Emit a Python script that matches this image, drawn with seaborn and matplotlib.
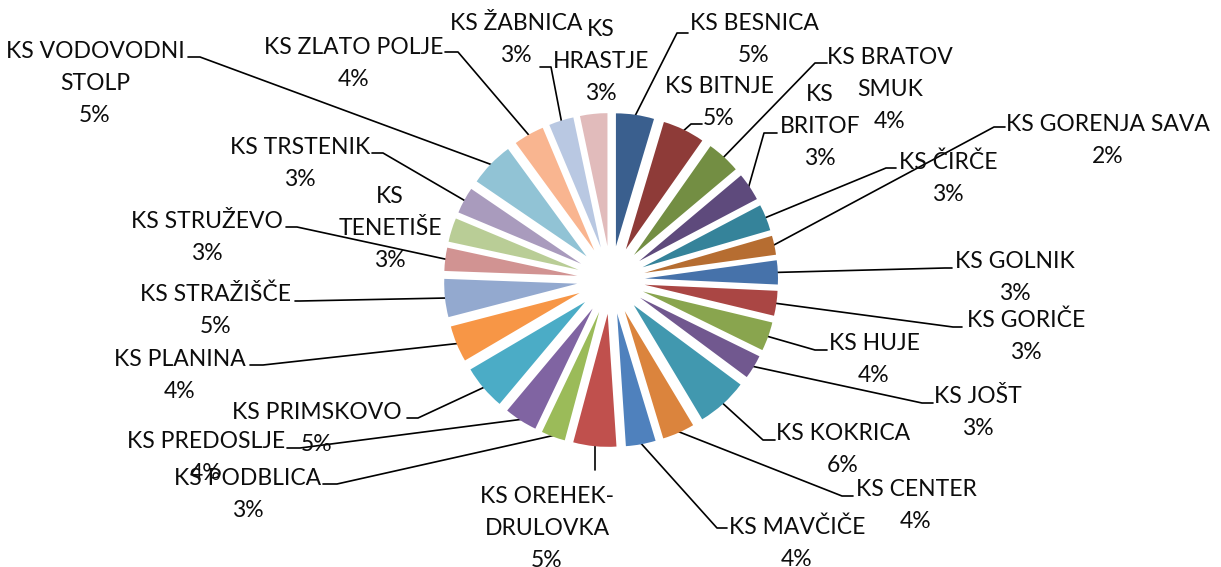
import numpy as np
import matplotlib
matplotlib.use("Agg")
import matplotlib.pyplot as plt
import seaborn as sns

# Delež po krajevnih skupnostih
names = ["KS BESNICA", "KS BITNJE", "KS BRATOV\nSMUK", "KS\nBRITOF", "KS ČIRČE",
         "KS GORENJA SAVA", "KS GOLNIK", "KS GORIČE", "KS HUJE", "KS JOŠT",
         "KS KOKRICA", "KS CENTER", "KS MAVČIČE", "KS OREHEK-\nDRULOVKA",
         "KS PODBLICA", "KS PREDOSLJE", "KS PRIMSKOVO", "KS PLANINA",
         "KS STRAŽIŠČE", "KS STRUŽEVO", "KS\nTENETIŠE", "KS TRSTENIK",
         "KS VODOVODNI\nSTOLP", "KS ZLATO POLJE", "KS ŽABNICA", "KS\nHRASTJE"]
shares = [4.6, 5.1, 4.1, 3.4, 3.2, 2.3, 2.9, 3.0, 3.5, 2.9, 6.2, 3.9, 3.6,
          5.2, 2.9, 4.0, 5.4, 4.4, 4.6, 2.8, 2.9, 3.2, 5.4, 3.7, 3.0, 3.3]

colors = ["#3A5F8E", "#8E3B38", "#738E43", "#5E4A7C", "#35839A", "#B66D31",
          "#4672AA", "#AA4644", "#89A54E", "#71588F", "#4198AF", "#DB843D",
          "#4F81BD", "#C0504D", "#9BBB59", "#8064A2", "#4BACC6", "#F79646",
          "#93A9CF", "#D19392", "#B9CD96", "#A99BBD", "#91C3D5", "#F9B590",
          "#B9C8E2", "#E1BBBB"]

# label block centres and leader elbows, in pixels (y down); None x = straight down
label_pos = [(754, 38), (719, 101), (890, 88), (820, 125), (948, 177), (1108, 139),
             (1015, 276), (1026, 335), (874, 358), (978, 411), (843, 448), (916, 504),
             (797, 542), (547, 527), (248, 493), (206, 456), (317, 427), (180, 374),
             (216, 309), (207, 236), (390, 227), (300, 162), (95, 82), (354, 62),
             (516, 38), (601, 60)]
leaders = [[(677, 33), (688, 33)], [(691, 124), (702, 124)], [(815, 63), (827, 63)],
           [(764, 133), (777, 133)], [(886, 168), (896, 168)], [(994, 127), (1005, 127)],
           [(945, 268), (952, 268)], [(953, 327), (962, 327)], [(815, 350), (827, 350)],
           [(922, 403), (933, 403)], [(763, 440), (775, 440)], [(842, 496), (853, 496)],
           [(717, 528), (727, 528)], [(None, 470)], [(337, 484), (323, 484)],
           [(300, 448), (287, 448)], [(418, 418), (407, 418)], [(263, 365), (250, 365)],
           [(300, 301), (295, 301)], [(297, 227), (286, 227)], None,
           [(383, 153), (372, 153)], [(200, 57), (188, 57)], [(458, 52), (445, 52)],
           [(551, 67), (540, 67)], None]

W, H = 1221, 567
sns.set_theme(style="white")
plt.rcParams['font.family'] = ['Lato', 'DejaVu Sans']

fig = plt.figure(figsize=(W / 100, H / 100), dpi=100)
ax = fig.add_axes([0, 0, 1, 1])

radius, shift = 133, 34
cx, cy = 611, H - 280
wedges, _ = ax.pie(shares, colors=colors, startangle=90, counterclock=False,
                   radius=radius, center=(cx, cy), explode=[shift] * len(shares),
                   wedgeprops=dict(linewidth=0))
ax.set_xlim(0, W)
ax.set_ylim(0, H)
ax.set_aspect('equal')
ax.axis('off')

total = sum(shares)
step = 32
for i, w in enumerate(wedges):
    pct = f"{round(shares[i] / total * 100)}%"
    lines = names[i].split("\n") + [pct]
    x, yc = label_pos[i]
    n = len(lines)
    for k, t in enumerate(lines):
        yl = yc + (k - (n - 1) / 2) * step
        ax.text(x, H - (yl + 8), t, ha='center', va='baseline', fontsize=16.5, color='#0d0d0d')
    if leaders[i] is not None:
        mid = np.deg2rad((w.theta1 + w.theta2) / 2)
        sx = w.center[0] + w.r * 0.99 * np.cos(mid)
        sy = w.center[1] + w.r * 0.99 * np.sin(mid)
        pts = [(sx, sy)] + [(sx if px is None else px, H - py) for px, py in leaders[i]]
        xs, ys = zip(*pts)
        ax.plot(xs, ys, color='black', lw=1.2, zorder=0)

fig.savefig("out.png", dpi=100)
